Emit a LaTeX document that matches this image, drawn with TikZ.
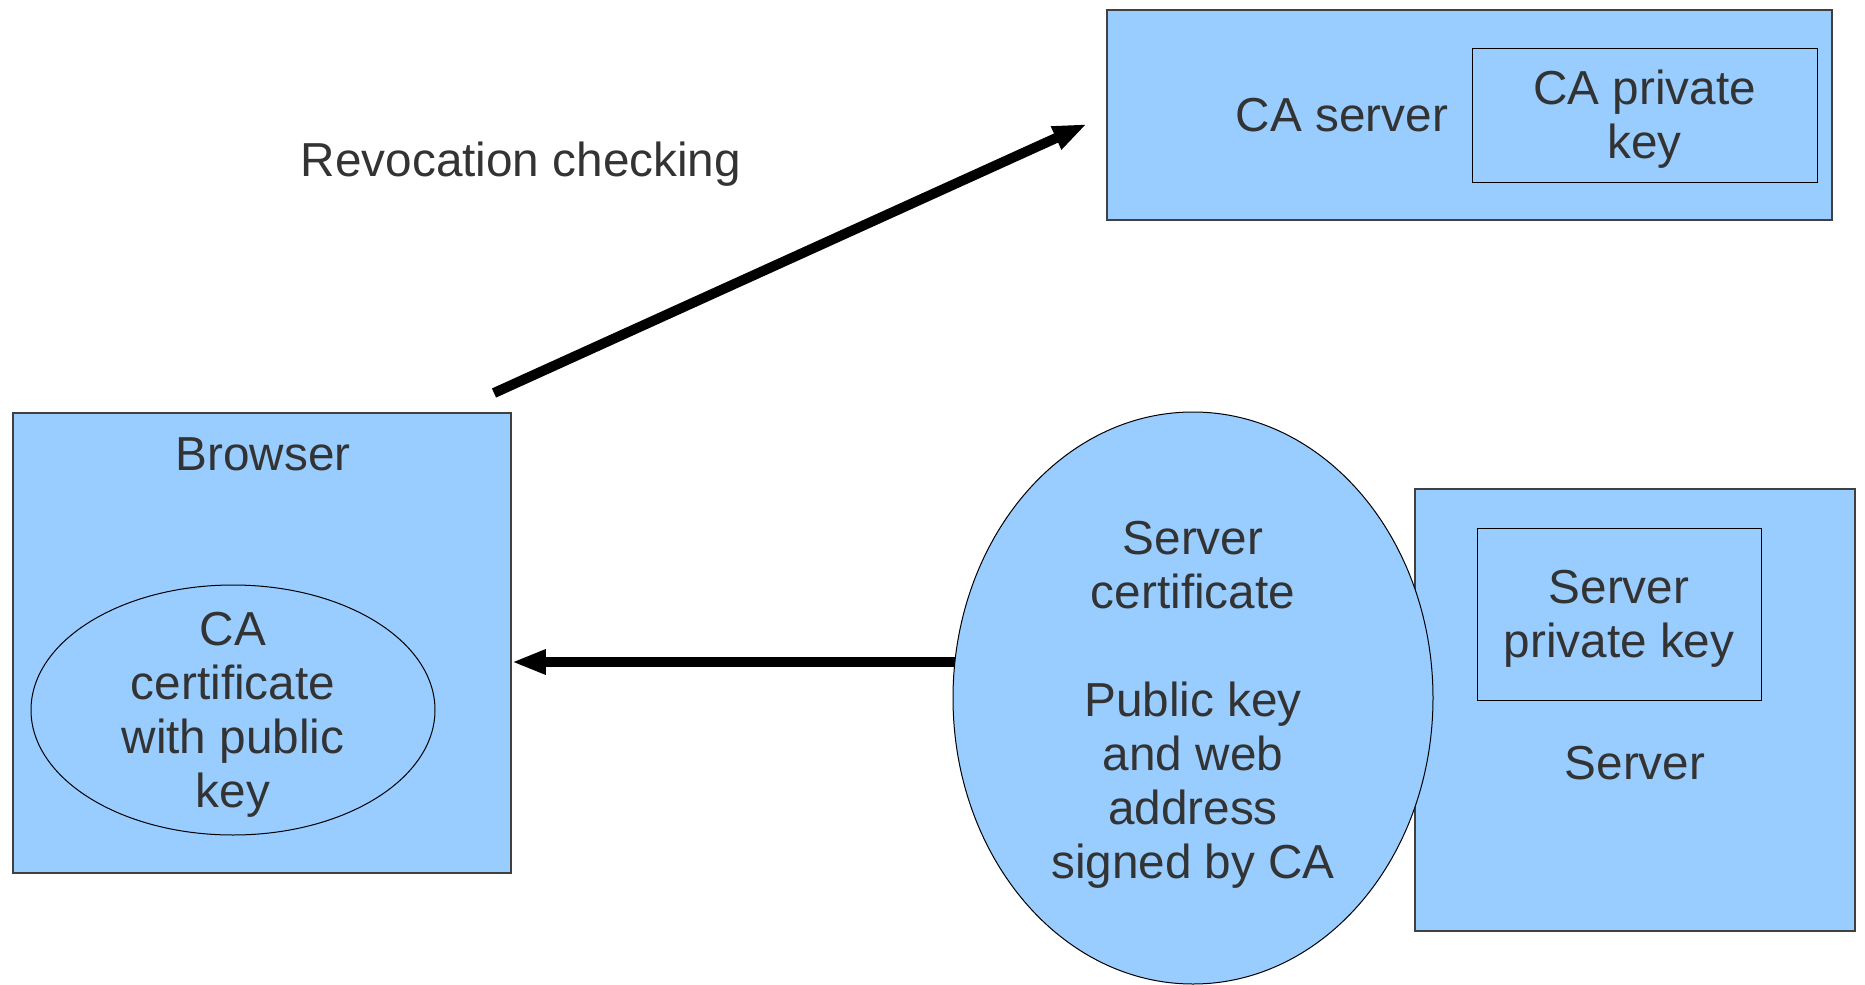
\documentclass[tikz,border=0pt]{standalone}
\usepackage{fontspec}
\setmainfont{Liberation Sans}
\usepackage{xcolor}
\usepackage{tikz}
\usetikzlibrary{arrows.meta, positioning, shapes.geometric}

\definecolor{paleblue}{HTML}{99CCFF}
\definecolor{ink}{HTML}{333333}

\begin{document}
\begin{tikzpicture}[
        x=0.5pt, y=-0.5pt,
        every node/.style={text=ink, font=\fontsize{23.85pt}{27pt}\selectfont, align=center, inner sep=0pt},
        panel/.style={draw=black!75, line width=0.75pt, fill=paleblue},
        keybox/.style={draw=black, line width=0.5pt, fill=paleblue},
        cert/.style={ellipse, draw=black, line width=0.5pt, fill=paleblue},
        flow/.style={line width=5pt, -{Triangle[length=17pt, width=11.5pt]}},
    ]
    \useasboundingbox (0,0) rectangle (1865,985);

    % browser side
    \node[panel, minimum width=249pt, minimum height=230pt] (browser) at (262,643) {};
    \node (browserlbl) at (263,454) {Browser};
    \node[cert, minimum width=202pt, minimum height=125pt] (cacert) at (233,710) {};
    \node (cacertlbl) at (233,715) {CA\\certificate\\with public\\key};

    % certificate authority
    \node[panel, minimum width=362.5pt, minimum height=105pt] (caserver) at (1469.5,115) {};
    \node (caserverlbl) at (1342,115) {CA server};
    \node[keybox, minimum width=172.5pt, minimum height=67pt] (cakey) at (1644.5,115) {};
    \node (cakeylbl) at (1644.5,119) {CA private\\key};

    % web server and its certificate
    \node[panel, minimum width=220pt, minimum height=221pt] (server) at (1635,710) {};
    \node[keybox, minimum width=142pt, minimum height=86pt] (serverkey) at (1619,614) {};
    \node (serverkeylbl) at (1619,619) {Server\\private key};
    \node (serverlbl) at (1635,763) {Server};
    \node[cert, minimum width=240pt, minimum height=286pt] (servercert) at (1193,698) {};
    \node (servercertlbl) at (1193,705)
        {Server\\certificate\\[27pt]Public key\\and web\\address\\signed by CA};

    % arrows
    \node (revlbl) at (521,164) {Revocation checking};
    \coordinate (revstart) at (494,393);
    \coordinate (revend) at (1087,124);
    \draw[flow] (revstart) -- (revend);
    \coordinate (certout) at (955,662);
    \draw[flow] (certout) -- (browser.east |- certout);
\end{tikzpicture}
\end{document}
